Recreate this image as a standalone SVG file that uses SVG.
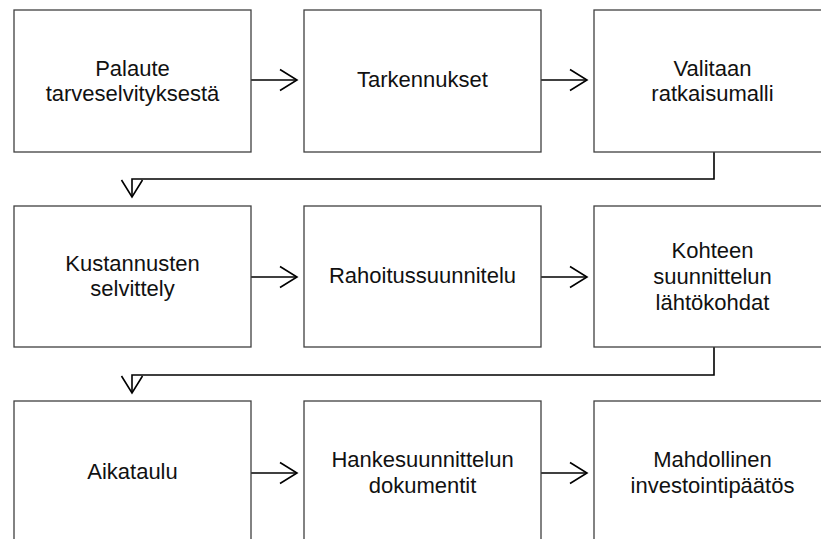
<svg xmlns="http://www.w3.org/2000/svg" width="821" height="539" viewBox="0 0 821 539">
<defs>
<style>
.box{fill:#fff;stroke:#404040;stroke-width:1.3}
.lbl{font-family:"Liberation Sans",Arial,sans-serif;font-size:22px;fill:#111;text-anchor:middle}
.con{fill:none;stroke:#000;stroke-width:1.6;marker-end:url(#arr)}
</style>
<marker id="arr" markerUnits="userSpaceOnUse" markerWidth="30" markerHeight="30" refX="0" refY="0" viewBox="-20 -15 25 30" orient="auto" overflow="visible">
<path d="M-17,-10.5 L0,0 L-17,10.5" fill="none" stroke="#000" stroke-width="1.6"/>
</marker>
</defs>
<rect width="821" height="539" fill="#fff"/>
<g id="connectors">
<path class="con" d="M251,80 H297"/>
<path class="con" d="M541,80 H587"/>
<path class="con" d="M714,152 V179 H132 V197"/>
<path class="con" d="M251,277 H297"/>
<path class="con" d="M541,277 H587"/>
<path class="con" d="M714,347 V375 H132 V393"/>
<path class="con" d="M251,473 H297"/>
<path class="con" d="M541,473 H587"/>
</g>
<g id="n1"><rect class="box" x="14" y="10" width="237" height="142"/><text class="lbl" x="132.5" y="76">Palaute</text><text class="lbl" x="132.5" y="101">tarveselvityksestä</text></g>
<g id="n2"><rect class="box" x="304" y="10" width="237" height="142"/><text class="lbl" x="422.5" y="87">Tarkennukset</text></g>
<g id="n3"><rect class="box" x="594" y="10" width="237" height="142"/><text class="lbl" x="712.5" y="76">Valitaan</text><text class="lbl" x="712.5" y="101">ratkaisumalli</text></g>
<g id="n4"><rect class="box" x="14" y="206" width="237" height="141"/><text class="lbl" x="132.5" y="271">Kustannusten</text><text class="lbl" x="132.5" y="296">selvittely</text></g>
<g id="n5"><rect class="box" x="304" y="206" width="237" height="141"/><text class="lbl" x="422.5" y="283">Rahoitussuunnitelu</text></g>
<g id="n6"><rect class="box" x="594" y="206" width="237" height="141"/><text class="lbl" x="712.5" y="258">Kohteen</text><text class="lbl" x="712.5" y="284">suunnittelun</text><text class="lbl" x="712.5" y="310">lähtökohdat</text></g>
<g id="n7"><rect class="box" x="14" y="401" width="237" height="145"/><text class="lbl" x="132.5" y="479">Aikataulu</text></g>
<g id="n8"><rect class="box" x="304" y="401" width="237" height="145"/><text class="lbl" x="422.5" y="467">Hankesuunnittelun</text><text class="lbl" x="422.5" y="493">dokumentit</text></g>
<g id="n9"><rect class="box" x="594" y="401" width="237" height="145"/><text class="lbl" x="712.5" y="467">Mahdollinen</text><text class="lbl" x="712.5" y="493">investointipäätös</text></g>
</svg>
